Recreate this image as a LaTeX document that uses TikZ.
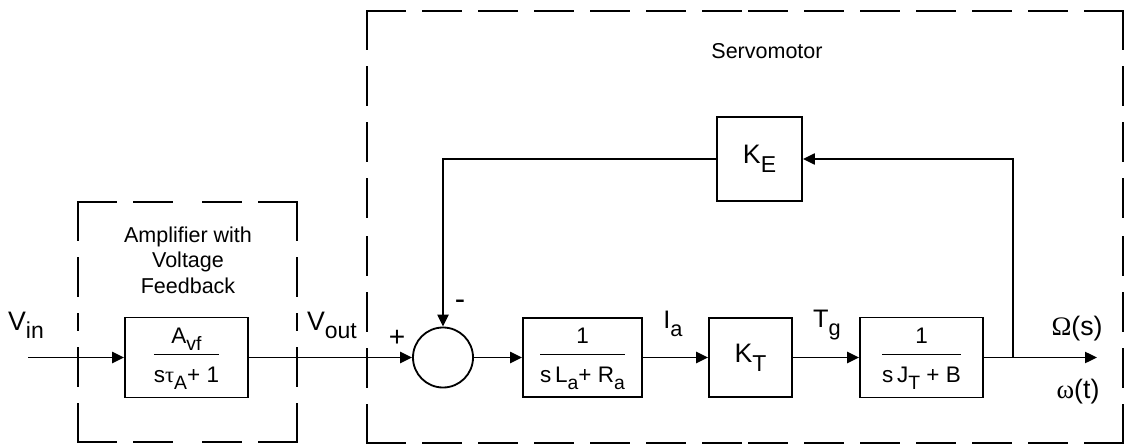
\documentclass[tikz,border=0pt]{standalone}
\usepackage{fontspec}
\setmainfont{Liberation Sans}
\newfontfamily\grk{Liberation Serif}
\usepackage{graphicx}
\usetikzlibrary{arrows.meta}
\setlength{\arrayrulewidth}{1pt}
\newcommand{\lo}[1]{\raisebox{-0.33em}{\scalebox{0.86}{#1}}}
\newcommand{\tf}[2]{\begin{tabular}{@{}c@{}}#1\\[0.1em]\hline\rule{0pt}{1.2em}#2\end{tabular}}
\begin{document}
\begin{tikzpicture}[x=0.025cm,y=-0.025cm,
    blk/.style={draw,line width=1.3pt,inner sep=0pt,font=\fontsize{16}{19}\selectfont},
    gain/.style={draw,line width=1.3pt,inner sep=0pt,font=\fontsize{19}{22}\selectfont},
    lbl/.style={font=\fontsize{19}{22}\selectfont,inner sep=0pt,anchor=base},
    txt/.style={font=\fontsize{15.3}{18.1}\selectfont,inner sep=0pt,align=center},
    sig/.style={line width=1.2pt,-{Triangle[length=3mm,width=2.8mm]}},
    grp/.style={line width=1.2pt,line cap=rect,dash pattern=on 0.95cm off 0.45cm}]
    \useasboundingbox (0,0) rectangle (1128,445);

    % dashed groups, dashes start at every corner
    \foreach \xa/\ya/\xb/\yb in {78/202/297/442, 367/11/1123/443} {
        \draw[grp] (\xa,\ya) -- ({(\xa+\xb)/2},\ya) (\xa,\ya) -- (\xa,{(\ya+\yb)/2})
                   (\xb,\ya) -- ({(\xa+\xb)/2},\ya) (\xb,\ya) -- (\xb,{(\ya+\yb)/2})
                   (\xa,\yb) -- ({(\xa+\xb)/2},\yb) (\xa,\yb) -- (\xa,{(\ya+\yb)/2})
                   (\xb,\yb) -- ({(\xa+\xb)/2},\yb) (\xb,\yb) -- (\xb,{(\ya+\yb)/2});
    }
    \node[txt] (ampt) at (188,260) {Amplifier with\\Voltage\\Feedback};
    \node[txt] (servt) at (767,51) {Servomotor};

    % blocks
    \node[blk,minimum width=3.075cm,minimum height=2cm] (amp) at (186.5,357.5) {\tf{A\lo{vf}}{s{\grk τ}\lo{A}+ 1}};
    \node[circle,draw,line width=1.3pt,minimum size=1.5cm,inner sep=0pt] (sum) at (443,357.5) {};
    \node[blk,minimum width=2.975cm,minimum height=1.975cm] (la) at (582.5,357.5) {\tf{1}{s\,L\lo{a}+ R\lo{a}}};
    \node[gain,minimum width=2.075cm,minimum height=1.975cm] (kt) at (750.5,357.5) {K\lo{T}};
    \node[blk,minimum width=3.075cm,minimum height=2cm] (jt) at (921.5,357.5) {\tf{1}{s\,J\lo{T} + B}};
    \node[gain,minimum width=2.125cm,minimum height=2.1cm] (ke) at (759.5,159) {K\lo{E}};

    \coordinate (in) at (28,357.5);
    \coordinate (tap) at (1013,357.5);
    \coordinate (out) at (1097,357.5);

    % signals
    \draw[sig] (in) -- (amp);
    \draw[sig] (amp) -- (sum);
    \draw[sig] (sum) -- (la);
    \draw[sig] (la) -- (kt);
    \draw[sig] (kt) -- (jt);
    \draw[sig] (jt) -- (out);
    \draw[sig] (tap) |- (ke);
    \draw[sig] (ke) -| (sum);

    % labels
    \node[lbl] (vin) at (26,330) {V\lo{in}};
    \node[lbl] (vout) at (332,330) {V\lo{out}};
    \node[lbl,font=\fontsize{18}{21}\selectfont] (ia) at (673,328) {I\lo{a}};
    \node[lbl,font=\fontsize{18}{21}\selectfont] (tg) at (827,327) {T\lo{g}};
    \node[lbl,font=\fontsize{19}{22}\selectfont] (oms) at (1077,335) {{\grk Ω}(s)};
    \node[lbl,font=\fontsize{19}{22}\selectfont] (omt) at (1078,398) {{\grk ω}(t)};
    \node[font=\fontsize{20}{22}\selectfont,inner sep=0pt] (plus) at (397,338) {+};
    \node[font=\fontsize{22}{24}\selectfont,inner sep=0pt] (minus) at (460,305) {-};
\end{tikzpicture}
\end{document}
